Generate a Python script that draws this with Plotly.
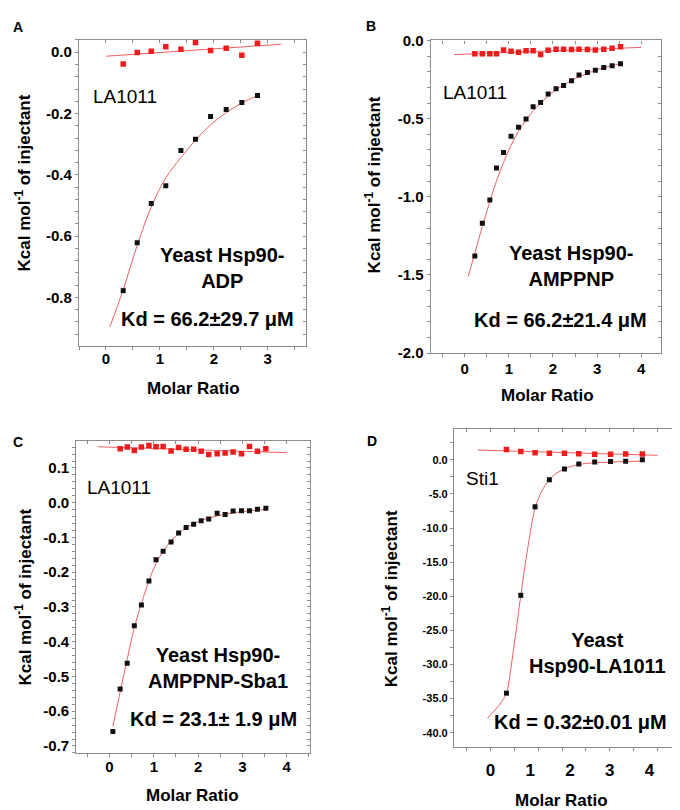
import plotly.graph_objects as go

# ---------------- data ----------------
# Panel A : Yeast Hsp90-ADP
a_x = [0.32, 0.58, 0.84, 1.11, 1.39, 1.66, 1.94, 2.23, 2.52, 2.81]
a_black = [-0.778, -0.622, -0.494, -0.436, -0.321, -0.284, -0.210, -0.187, -0.164, -0.141]
a_red = [-0.038, -0.001, 0.003, 0.018, 0.010, 0.032, 0.006, 0.013, -0.010, 0.029]
a_fit_x = [0.07, 0.32, 0.58, 0.84, 1.11, 1.39, 1.66, 1.94, 2.23, 2.52, 2.81]
a_fit_y = [-0.897, -0.775, -0.630, -0.505, -0.410, -0.344, -0.287, -0.237, -0.197, -0.166, -0.141]
a_base_x = [0.0, 3.25]
a_base_y = [-0.013, 0.026]
a_yticks = [0.0, -0.2, -0.4, -0.6, -0.8]
a_ylabels = ["0.0", "-0.2", "-0.4", "-0.6", "-0.8"]
a_xticks = [0, 1, 2, 3]
a_xlabels = ["0", "1", "2", "3"]

# Panel B : Yeast Hsp90-AMPPNP
b_x = [0.23, 0.40, 0.57, 0.72, 0.88, 1.05, 1.22, 1.39, 1.55, 1.72,
       1.89, 2.07, 2.24, 2.42, 2.59, 2.78, 2.96, 3.15, 3.34, 3.53]
b_black = [-1.378, -1.169, -1.021, -0.816, -0.716, -0.612, -0.555, -0.503, -0.424, -0.397,
           -0.342, -0.309, -0.288, -0.257, -0.221, -0.205, -0.190, -0.173, -0.161, -0.148]
b_red = [-0.084, -0.084, -0.084, -0.084, -0.061, -0.069, -0.075, -0.065, -0.065, -0.090,
         -0.063, -0.056, -0.056, -0.058, -0.056, -0.058, -0.061, -0.056, -0.050, -0.040]
b_fit_x = [0.08, 0.23, 0.40, 0.57, 0.72, 0.88, 1.05, 1.22, 1.39, 1.55, 1.72,
           1.89, 2.07, 2.24, 2.42, 2.59, 2.78, 2.96, 3.15, 3.34, 3.53]
b_fit_y = [-1.51, -1.36, -1.19, -1.03, -0.90, -0.78, -0.67, -0.58, -0.51, -0.45, -0.40,
           -0.355, -0.315, -0.285, -0.255, -0.232, -0.210, -0.190, -0.175, -0.160, -0.148]
b_base_x = [-0.24, 4.0]
b_base_y = [-0.090, -0.044]
b_yticks = [0.0, -0.5, -1.0, -1.5, -2.0]
b_ylabels = ["0.0", "-0.5", "-1.0", "-1.5", "-2.0"]
b_xticks = [0, 1, 2, 3, 4]
b_xlabels = ["0", "1", "2", "3", "4"]

# Panel C : Yeast Hsp90-AMPPNP-Sba1
c_x = [0.075, 0.24, 0.40, 0.56, 0.72, 0.89, 1.05, 1.21, 1.39, 1.56, 1.73,
       1.90, 2.07, 2.24, 2.43, 2.61, 2.79, 2.98, 3.16, 3.34, 3.53]
c_black = [-0.658, -0.536, -0.462, -0.354, -0.294, -0.225, -0.164, -0.140, -0.113, -0.087, -0.071,
           -0.062, -0.052, -0.047, -0.030, -0.034, -0.024, -0.023, -0.023, -0.019, -0.016]
c_red_x = [0.24, 0.40, 0.56, 0.72, 0.89, 1.05, 1.21, 1.39, 1.56, 1.73,
           1.90, 2.07, 2.24, 2.43, 2.61, 2.79, 2.98, 3.16, 3.34, 3.53]
c_red = [0.155, 0.160, 0.150, 0.160, 0.165, 0.161, 0.162, 0.149, 0.159, 0.154,
         0.154, 0.148, 0.139, 0.141, 0.143, 0.146, 0.141, 0.162, 0.148, 0.155]
c_fit_x = c_x
c_fit_y = [-0.644, -0.545, -0.450, -0.360, -0.290, -0.225, -0.175, -0.140, -0.110, -0.088, -0.072,
           -0.060, -0.051, -0.044, -0.038, -0.033, -0.029, -0.026, -0.023, -0.021, -0.019]
c_base_x = [-0.25, 4.01]
c_base_y = [0.161, 0.144]
c_yticks = [0.1, 0.0, -0.1, -0.2, -0.3, -0.4, -0.5, -0.6, -0.7]
c_ylabels = ["0.1", "0.0", "-0.1", "-0.2", "-0.3", "-0.4", "-0.5", "-0.6", "-0.7"]
c_xticks = [0, 1, 2, 3, 4]
c_xlabels = ["0", "1", "2", "3", "4"]

# Panel D : Yeast Hsp90-LA1011 (Sti1)
d_x = [0.40, 0.76, 1.12, 1.48, 1.86, 2.22, 2.62, 3.02, 3.40, 3.82]
d_black = [-34.2, -19.86, -6.89, -2.92, -1.34, -0.62, -0.33, -0.24, -0.19, 0.0]
d_red = [1.53, 1.24, 1.05, 0.96, 0.96, 0.91, 0.81, 0.81, 0.86, 0.86]
d_fit_x = [-0.08, 0.14, 0.32, 0.40, 0.58, 0.76, 0.94, 1.12, 1.28, 1.48, 1.70, 1.95, 2.29, 2.79, 3.82]
d_fit_y = [-37.9, -36.5, -35.1, -34.2, -27.7, -19.9, -12.8, -7.1, -4.7, -2.9, -1.8, -1.1, -0.62, -0.38, -0.19]
d_base_x = [-0.32, 4.2]
d_base_y = [1.44, 0.67]
d_yticks = [0, -5, -10, -15, -20, -25, -30, -35, -40]
d_ylabels = ["0.0", "-5.0", "-10.0", "-15.0", "-20.0", "-25.0", "-30.0", "-35.0", "-40.0"]
d_xticks = [0, 1, 2, 3, 4]
d_xlabels = ["0", "1", "2", "3", "4"]

# ---------------- styling ----------------
W, H = 680, 810
FONT = "Liberation Sans, Arial, sans-serif"
AX = "#8c8c8c"
RED = "#ee1c1c"
FITC = "rgb(240,95,95)"
BLK = "#111111"


def px_x(a, b):
    return [a / W, b / W]


def px_y(top, bottom):
    return [1 - bottom / H, 1 - top / H]


def P(x, y):
    return x / W, 1 - y / H


def bold(labels):
    return ["<b>%s</b>" % s for s in labels]


panels = [
    dict(xd=px_x(71, 298), yd=px_y(23, 336), xr=[-0.5, 3.71], yr=[-0.9585, 0.0415],
         xdt=1, xmin=0.5, ydt=0.2, ymin=0.04, yfs=15, xfs=15, xstand=-4,
         xt=a_xticks, xl=a_xlabels, yt=a_yticks, yl=a_ylabels,
         bx=a_x, by=a_black, rx=a_x, ry=a_red, fx=a_fit_x, fy=a_fit_y, lx=a_base_x, ly=a_base_y),
    dict(xd=px_x(422.7, 652.7), yd=px_y(24, 343.3), xr=[-0.77, 4.44], yr=[-2.0, 0.0],
         xdt=1, xmin=0.5, ydt=0.5, ymin=0.1, yfs=15, xfs=15, xstand=-1,
         xt=b_xticks, xl=b_xlabels, yt=b_yticks, yl=b_ylabels,
         bx=b_x, by=b_black, rx=b_x, ry=b_red, fx=b_fit_x, fy=b_fit_y, lx=b_base_x, ly=b_base_y),
    dict(xd=px_x(68.3, 301.7), yd=px_y(433.3, 751.7), xr=[-0.75, 4.52], yr=[-0.72, 0.177],
         xdt=1, xmin=0.5, ydt=0.1, ymin=0.02, yfs=15, xfs=15, xstand=-3,
         xt=c_xticks, xl=c_xlabels, yt=c_yticks, yl=c_ylabels,
         bx=c_x, by=c_black, rx=c_red_x, ry=c_red, fx=c_fit_x, fy=c_fit_y, lx=c_base_x, ly=c_base_y),
    dict(xd=px_x(446, 673.3), yd=px_y(421, 745.7), xr=[-0.92, 4.8], yr=[-42.1, 4.5],
         xdt=0.6, xmin=None, ydt=5, ymin=2.5, yfs=11, xfs=17, xstand=11,
         xt=d_xticks, xl=d_xlabels, yt=d_yticks, yl=d_ylabels,
         bx=d_x, by=d_black, rx=d_x, ry=d_red, fx=d_fit_x, fy=d_fit_y, lx=d_base_x, ly=d_base_y),
]

fig = go.Figure()
layout = {}


def ghost(xa, ya, xr, yr):
    # invisible point so that overlay axes get drawn
    fig.add_trace(go.Scatter(x=[sum(xr) / 2], y=[sum(yr) / 2], mode="markers",
                             marker=dict(opacity=0, size=1), xaxis=xa, yaxis=ya,
                             showlegend=False, hoverinfo="skip"))


common = dict(showgrid=False, zeroline=False, showline=True, linecolor=AX, linewidth=1.2,
              tickcolor=AX, tickwidth=1, fixedrange=True)

for i, p in enumerate(panels, start=1):
    xa, ya = f"x{i}", f"y{i}"
    xk, yk = f"xaxis{i}", f"yaxis{i}"
    fig.add_trace(go.Scatter(x=p["lx"], y=p["ly"], mode="lines", line=dict(color=FITC, width=1),
                             xaxis=xa, yaxis=ya, showlegend=False, hoverinfo="skip"))
    fig.add_trace(go.Scatter(x=p["fx"], y=p["fy"], mode="lines", line=dict(color=FITC, width=1, shape="spline"),
                             xaxis=xa, yaxis=ya, showlegend=False, hoverinfo="skip"))
    fig.add_trace(go.Scatter(x=p["rx"], y=p["ry"], mode="markers",
                             marker=dict(symbol="square", size=5.5, color=RED),
                             xaxis=xa, yaxis=ya, showlegend=False))
    fig.add_trace(go.Scatter(x=p["bx"], y=p["by"], mode="markers",
                             marker=dict(symbol="square", size=5, color=BLK),
                             xaxis=xa, yaxis=ya, showlegend=False))

    # bottom axis
    if i == 4:
        layout[xk] = dict(domain=p["xd"], anchor=ya, range=p["xr"], ticks="outside", ticklen=3,
                          tickmode="linear", tick0=0, dtick=p["xdt"], showticklabels=False, **common)
    else:
        layout[xk] = dict(domain=p["xd"], anchor=ya, range=p["xr"], ticks="outside", ticklen=3,
                          tickmode="array", tickvals=p["xt"], ticktext=bold(p["xl"]),
                          minor=dict(tickmode="linear", tick0=0, dtick=p["xmin"], ticks="outside",
                                     ticklen=3, tickcolor=AX),
                          tickfont=dict(family=FONT, size=p["xfs"], color="black"),
                          ticklabelstandoff=p["xstand"], **common)
    # left axis
    layout[yk] = dict(domain=p["yd"], anchor=xa, range=p["yr"], ticks="outside", ticklen=3,
                      tickmode="array", tickvals=p["yt"], ticktext=bold(p["yl"]),
                      minor=dict(tickmode="linear", tick0=0, dtick=p["ymin"], ticks="outside",
                                 ticklen=3, tickcolor=AX),
                      tickfont=dict(family=FONT, size=p["yfs"], color="black"),
                      **common)
    # top mirror axis (ticks inside)
    tk = f"xaxis{i + 4}"
    top = dict(overlaying=xa, anchor=ya, side="top", range=p["xr"], ticks="inside", ticklen=3,
               tickmode="linear", tick0=0, dtick=p["xdt"], showticklabels=False, **common)
    if p["xmin"] is not None:
        top["minor"] = dict(tickmode="linear", tick0=0, dtick=p["xmin"], ticks="inside",
                            ticklen=3, tickcolor=AX)
    layout[tk] = top
    ghost(f"x{i + 4}", ya, p["xr"], p["yr"])
    # right mirror axis (ticks inside)
    rk = f"yaxis{i + 4}"
    layout[rk] = dict(overlaying=ya, anchor=xa, side="right", range=p["yr"], ticks="inside", ticklen=3,
                      tickmode="linear", tick0=0, dtick=p["ydt"], showticklabels=False,
                      minor=dict(tickmode="linear", tick0=0, dtick=p["ymin"], ticks="inside",
                                 ticklen=3, tickcolor=AX), **common)
    ghost(xa, f"y{i + 4}", p["xr"], p["yr"])

# extra label axis for panel D (labels not aligned with the tick marks)
layout["xaxis9"] = dict(overlaying="x4", anchor="y4", side="bottom", range=panels[3]["xr"],
                        tickmode="array", tickvals=d_xticks, ticktext=bold(d_xlabels),
                        ticks="", showline=False, showgrid=False, zeroline=False, fixedrange=True,
                        ticklabelstandoff=panels[3]["xstand"],
                        tickfont=dict(family=FONT, size=17, color="black"))
ghost("x9", "y4", panels[3]["xr"], panels[3]["yr"])

annots = []


def ann(text, x, y, size, is_bold=True, xanchor="center", angle=0):
    ax_, ay_ = P(x, y)
    annots.append(dict(text=("<b>%s</b>" % text) if is_bold else text, x=ax_, y=ay_,
                       xref="paper", yref="paper", showarrow=False,
                       xanchor=xanchor, yanchor="middle", textangle=angle,
                       font=dict(family=FONT, size=size, color="black")))


ytitle = "Kcal mol<sup>-1</sup> of injectant"
# panel letters
ann("A", 9.5, 10, 14)
ann("B", 363, 9.5, 14)
ann("C", 10, 434, 14)
ann("D", 363.5, 433, 14)
# axis titles
ann(ytitle, 15, 170, 17, angle=-90)
ann(ytitle, 365, 172, 17, angle=-90)
ann(ytitle, 15, 593, 17, angle=-90)
ann(ytitle, 381.7, 594, 17, angle=-90)
ann("Molar Ratio", 185.5, 379, 17)
ann("Molar Ratio", 539.7, 386.7, 17)
ann("Molar Ratio", 185, 795, 17)
ann("Molar Ratio", 553.7, 800, 17)
# ligand labels
ann("LA1011", 82.7, 81.7, 19, is_bold=False, xanchor="left")
ann("LA1011", 433.3, 76.7, 19, is_bold=False, xanchor="left")
ann("LA1011", 76.7, 481, 19, is_bold=False, xanchor="left")
ann("Sti1", 456, 471.7, 19, is_bold=False, xanchor="left")
# complex labels
ann("Yeast Hsp90-<br>ADP", 214, 256.3, 20)
ann("Yeast Hsp90-<br>AMPPNP", 563, 254, 20)
ann("Yeast Hsp90-<br>AMPPNP-Sba1", 210, 665, 20)
ann("Yeast<br>Hsp90-LA1011", 589, 650, 20)
# Kd values
ann("Kd = 66.2±29.7 μM", 199.5, 308.3, 20)
ann("Kd = 66.2±21.4 μM", 552.8, 309.3, 20)
ann("Kd = 23.1± 1.9 μM", 205.5, 716.7, 20)
ann("Kd = 0.32±0.01 μM", 572.8, 720, 20)
# stray superscript in panel D
ann("4", 668, 757, 10)

layout.update(dict(width=W, height=H, margin=dict(l=0, r=0, t=0, b=0),
                   paper_bgcolor="white", plot_bgcolor="white", showlegend=False,
                   annotations=annots))
fig.update_layout(**layout)
fig.write_html("out.html")
